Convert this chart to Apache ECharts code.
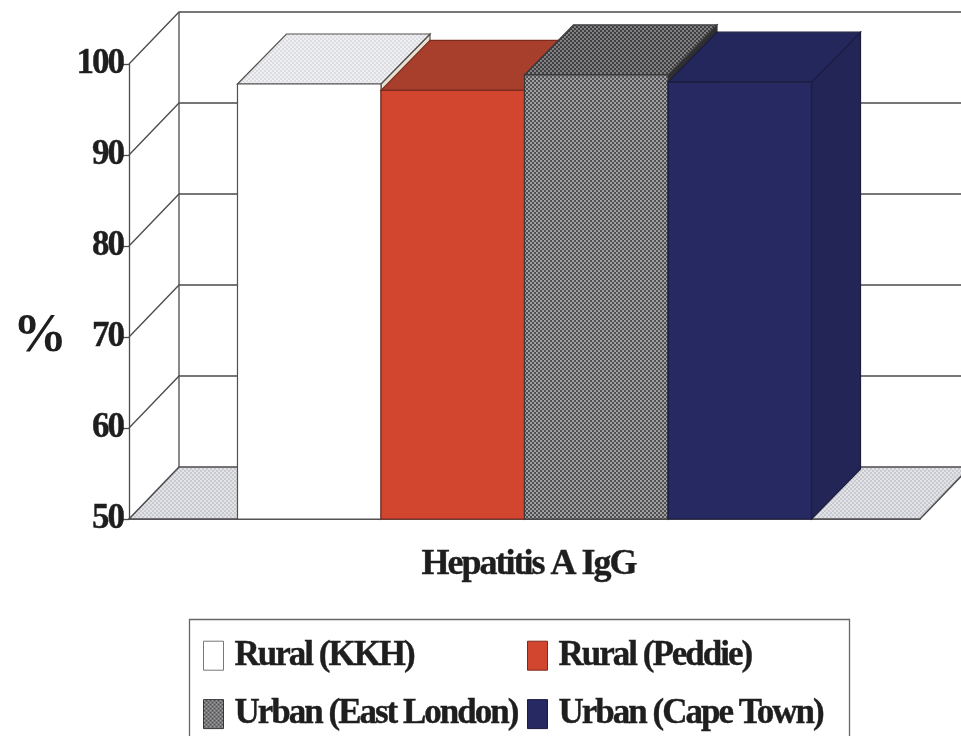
<!DOCTYPE html>
<html>
<head>
<meta charset="utf-8">
<style>
  html, body { margin: 0; padding: 0; background: #fff; }
  #chart { width: 961px; height: 736px; }
</style>
<script src="https://cdn.jsdelivr.net/npm/echarts@6/dist/echarts.min.js"></script>
</head>
<body>
<div id="chart"></div>
<script>
  const categories = ['Hepatitis A IgG'];
  const seriesNames = ['Rural (KKH)', 'Rural (Peddie)', 'Urban (East London)', 'Urban (Cape Town)'];
  const seriesValues = [97.8, 97.1, 98.8, 98.0];
  const wallTicks = [60, 70, 80, 90, 100];

  const fontName = '"Liberation Serif", "Times New Roman", serif';
  const textColor = '#1e1e1e';
  const lineColor = '#4c4a4c';
  const wallDepth = [50, 52];
  const barDepth = [49, 50];
  const barFraction = 0.7257;

  // small dither tile, used as a repeating fill
  function dither(bg, dot, size) {
    const c = document.createElement('canvas');
    c.width = c.height = size * 2;
    const ctx = c.getContext('2d');
    ctx.fillStyle = bg;
    ctx.fillRect(0, 0, size * 2, size * 2);
    ctx.fillStyle = dot;
    ctx.fillRect(0, 0, size, size);
    ctx.fillRect(size, size, size, size);
    return { image: c, repeat: 'repeat' };
  }

  const floorFill = dither('#c9cad0', '#e2e3e6', 2);
  const faces = [
    { front: '#ffffff', top: dither('#dcdde2', '#f0f0f2', 2), side: '#e9e2d2', stroke: '#55504f' },
    { front: '#d2452f', top: '#a83f2d', side: '#8f3022', stroke: '#7a2a1e' },
    { front: dither('#505053', '#a0a0a2', 2), top: dither('#404042', '#808082', 2), side: '#2f2f31', stroke: '#38383a' },
    { front: '#272a62', top: '#24275c', side: '#222555', stroke: '#1b1c3e' }
  ];

  function renderWalls(params, api) {
    const cs = params.coordSys;
    const [dx, dy] = wallDepth;
    const p = api.coord([categories[0], api.value(1)]);
    const left = cs.x;
    const right = cs.x + cs.width;
    return {
      type: 'polyline',
      shape: { points: [[left, p[1]], [left + dx, p[1] - dy], [right + dx, p[1] - dy]] },
      style: { stroke: lineColor, lineWidth: 1.3, fill: null }
    };
  }

  function renderFloor(params, api) {
    const cs = params.coordSys;
    const [dx, dy] = wallDepth;
    const b = cs.y + cs.height;
    const left = cs.x;
    const right = cs.x + cs.width;
    return {
      type: 'group',
      children: [
        { type: 'line', shape: { x1: left + dx, y1: cs.y - dy, x2: left + dx, y2: b - dy },
          style: { stroke: lineColor, lineWidth: 1.3 } },
        { type: 'polygon', shape: { points: [[left, b], [left + dx, b - dy], [right + dx, b - dy], [right, b]] },
          style: { fill: floorFill, stroke: lineColor, lineWidth: 1.5 } }
      ]
    };
  }

  function renderBar(params, api) {
    const i = params.seriesIndex - 2;
    const face = faces[i];
    const center = api.coord([api.value(0), 50]);
    const top = api.coord([api.value(0), api.value(1)]);
    const w = api.size([1, 0])[0] * barFraction / seriesValues.length;
    const x0 = center[0] + (i - seriesValues.length / 2) * w;
    const x1 = x0 + w;
    const y0 = top[1];
    const y1 = center[1];
    const [dx, dy] = barDepth;
    const sw = { stroke: face.stroke, lineWidth: 1.2 };
    return {
      type: 'group',
      children: [
        { type: 'polygon', shape: { points: [[x1, y1], [x1 + dx, y1 - dy], [x1 + dx, y0 - dy], [x1, y0]] },
          style: Object.assign({ fill: face.side }, sw) },
        { type: 'polygon', shape: { points: [[x0, y0], [x0 + dx, y0 - dy], [x1 + dx, y0 - dy], [x1, y0]] },
          style: Object.assign({ fill: face.top }, sw) },
        { type: 'rect', shape: { x: x0, y: y0, width: w, height: y1 - y0 },
          style: Object.assign({ fill: face.front }, sw) }
      ]
    };
  }

  const barSeries = seriesNames.map((name, i) => ({
    name: name,
    type: 'custom',
    z: 4,
    itemStyle: { color: faces[i].front },
    renderItem: renderBar,
    encode: { x: 0, y: 1 },
    data: [[categories[0], seriesValues[i]]]
  }));

  function legendOf(left, names) {
    return {
      orient: 'vertical',
      left: left,
      top: 638,
      height: 200,
      itemWidth: 20,
      itemHeight: 29,
      itemGap: 23,
      padding: 0,
      icon: 'rect',
      selectedMode: false,
      textStyle: {
        fontFamily: fontName, fontWeight: 'bold', fontSize: 35, color: textColor,
        textBorderColor: textColor, textBorderWidth: 0.4, padding: [0, 0, 0, 6]
      },
      data: names.map(n => {
        const f = faces[seriesNames.indexOf(n)];
        return { name: n, itemStyle: { color: f.front, borderColor: n === seriesNames[0] ? '#777' : f.stroke, borderWidth: 1 } };
      })
    };
  }

  const chart = echarts.init(document.getElementById('chart'), null, { renderer: 'canvas' });

  chart.setOption({
    animation: false,
    backgroundColor: '#fff',
    grid: { left: 129, top: 64, width: 791, height: 455 },
    xAxis: {
      type: 'category',
      data: categories,
      axisLine: { lineStyle: { color: lineColor, width: 1.5 } },
      axisTick: { length: 7, lineStyle: { color: lineColor, width: 1.3 } },
      axisLabel: {
        fontFamily: fontName, fontWeight: 'bold', fontSize: 36, color: textColor,
        textBorderColor: textColor, textBorderWidth: 0.4, margin: 28, padding: [0, 0, 0, 8]
      }
    },
    yAxis: {
      type: 'value',
      min: 50,
      max: 100,
      interval: 10,
      splitLine: { show: false },
      axisLine: { show: true, lineStyle: { color: lineColor, width: 1.3 } },
      axisTick: { show: true, length: 6, lineStyle: { color: lineColor, width: 1.3 } },
      axisLabel: {
        fontFamily: fontName, fontWeight: 'bold', fontSize: 35, color: textColor,
        textBorderColor: textColor, textBorderWidth: 0.4, margin: 6, padding: [10, 0, 0, 0]
      }
    },
    legend: [
      legendOf(203, [seriesNames[0], seriesNames[2]]),
      legendOf(527, [seriesNames[1], seriesNames[3]])
    ],
    graphic: [
      { type: 'text', left: 13, top: 310, style: { text: '%', fontFamily: fontName, fontWeight: 'bold', fontSize: 54, fill: textColor } },
      { type: 'rect', left: 187, top: 617, shape: { width: 660, height: 130 }, style: { fill: null, stroke: '#666', lineWidth: 1.3 } }
    ],
    series: [
      {
        type: 'custom', z: 2, silent: true, renderItem: renderFloor,
        encode: { x: 0, y: 1 }, data: [[categories[0], 50]]
      },
      {
        type: 'custom', z: 3, silent: true, renderItem: renderWalls,
        encode: { x: 0, y: 1 }, data: wallTicks.map(t => [categories[0], t])
      }
    ].concat(barSeries)
  });

  // the original type is set very tight; canvas exists only after the first paint
  chart.getDom().querySelectorAll('canvas').forEach(c => {
    c.getContext('2d').letterSpacing = '-2px';
  });
  chart.getZr().painter.refresh(true);
</script>
</body>
</html>
